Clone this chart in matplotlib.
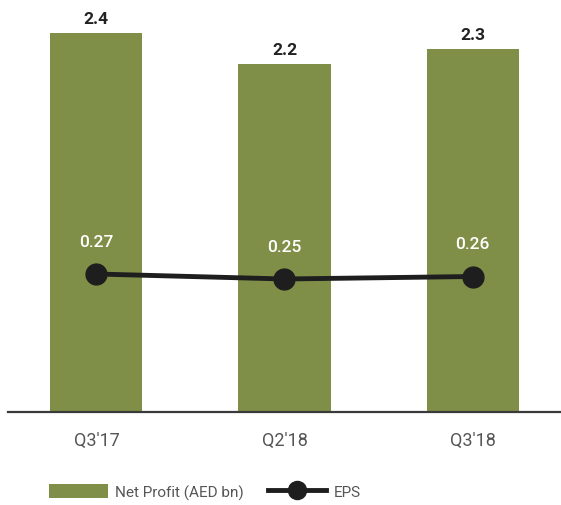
import matplotlib
matplotlib.use("Agg")
import matplotlib.pyplot as plt
from matplotlib.patches import Patch
from matplotlib.lines import Line2D

quarters = ["Q3'17", "Q2'18", "Q3'18"]
net_profit = [2.4, 2.2, 2.3]
eps = [0.27, 0.25, 0.26]

BAR_COLOR = "#7f8f47"
LINE_COLOR = "#1e1e1e"

plt.rcParams["font.family"] = ["Roboto", "DejaVu Sans"]

fig = plt.figure(figsize=(5.61, 5.06), dpi=100)
# axes spans from x=8px to right edge, baseline at y=413px from top
ax = fig.add_axes([8 / 561, 93 / 506, 1 - 8 / 561, 413 / 506])
x = list(range(len(quarters)))

ax.bar(x, net_profit, width=0.49, color=BAR_COLOR, zorder=1)
for xi, v in zip(x, net_profit):
    ax.annotate(f"{v:.1f}", (xi, v), xytext=(0, 5), textcoords="offset points",
                ha="center", va="bottom", fontsize=12.5, fontweight="bold",
                color="#222222")

ax.set_xlim(-0.47, 2.47)
ax.set_ylim(0, 2.614)
ax.set_yticks([])
ax.set_xticks(x)
ax.set_xticklabels(quarters, fontsize=13, color="#555555")
ax.tick_params(axis="x", length=0, pad=14)
for s in ("top", "right", "left"):
    ax.spines[s].set_visible(False)
ax.spines["bottom"].set_color("#3a3a3a")
ax.spines["bottom"].set_linewidth(1.6)

ax2 = ax.twinx()
ax2.plot(x, eps, color=LINE_COLOR, lw=3.5, marker="o", markersize=15, zorder=3)
for xi, v in zip(x, eps):
    ax2.annotate(f"{v:.2f}", (xi, v), xytext=(0, 18), textcoords="offset points",
                 ha="center", va="bottom", fontsize=12.5, fontweight="medium",
                 color="white")
ax2.set_ylim(-0.282, 1.37)
ax2.set_yticks([])
for s in ax2.spines.values():
    s.set_visible(False)

handles = [
    Patch(facecolor=BAR_COLOR, edgecolor="none", label="Net Profit (AED bn)"),
    Line2D([0], [0], color=LINE_COLOR, lw=3.5, marker="o", markersize=13, label="EPS"),
]
leg = fig.legend(handles=handles, loc="center", bbox_to_anchor=(0.366, 0.026), ncol=2,
                 frameon=False, fontsize=11, handlelength=3.8, handleheight=1.0,
                 columnspacing=1.6, handletextpad=0.5)
for t in leg.get_texts():
    t.set_color("#555555")

fig.savefig("out.png", dpi=100)
